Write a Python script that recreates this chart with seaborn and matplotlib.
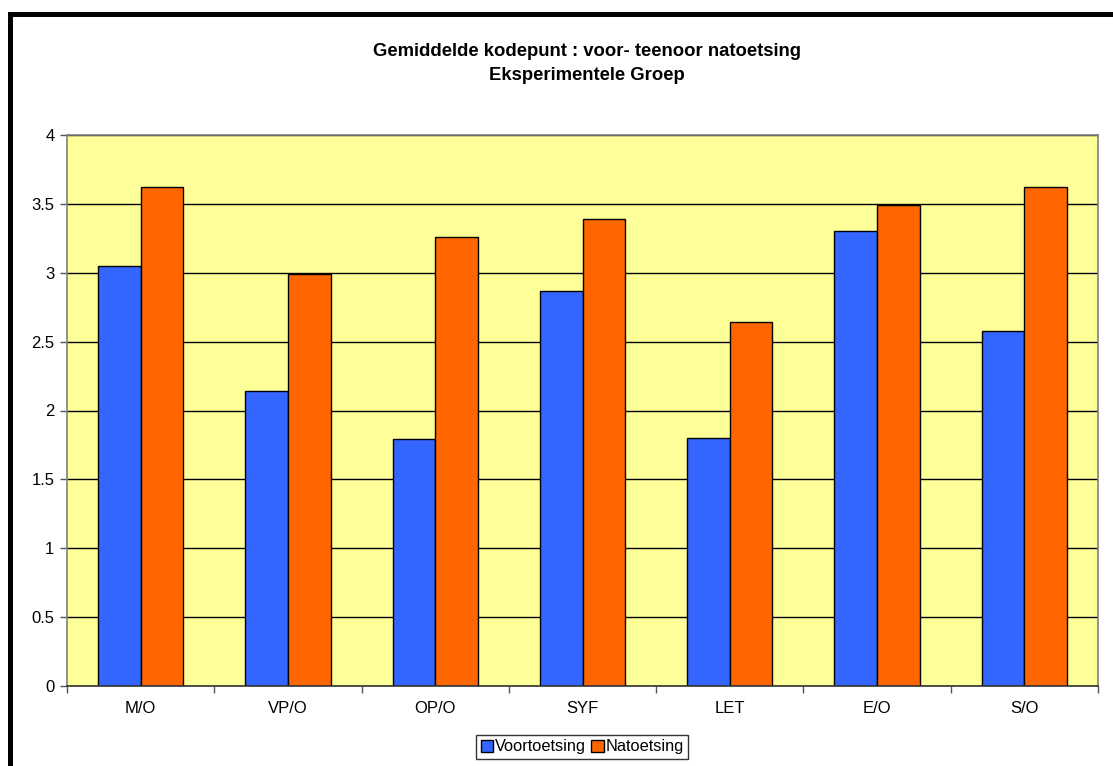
import matplotlib
matplotlib.use("Agg")
import matplotlib.pyplot as plt
from matplotlib.patches import Patch, Rectangle
from matplotlib.ticker import MultipleLocator, FixedLocator
import seaborn as sns
import pandas as pd

categories = ["M/O", "VP/O", "OP/O", "SYF", "LET", "E/O", "S/O"]
voortoetsing = [3.05, 2.14, 1.79, 2.87, 1.80, 3.30, 2.58]
natoetsing = [3.62, 2.99, 3.26, 3.39, 2.64, 3.49, 3.62]
series_names = ["Voortoetsing", "Natoetsing"]
colors = ["#3366FF", "#FF6600"]

df = pd.DataFrame({
    "kategorie": categories * 2,
    "reeks": [series_names[0]] * len(categories) + [series_names[1]] * len(categories),
    "waarde": voortoetsing + natoetsing,
})

sns.set_theme(style="white")
plt.rcParams["font.family"] = ["Liberation Sans", "DejaVu Sans"]
plt.rcParams["text.color"] = "black"
plt.rcParams["xtick.color"] = "black"
plt.rcParams["ytick.color"] = "black"

fig = plt.figure(figsize=(11.13, 7.66), dpi=100)
ax = fig.add_axes([67 / 1113, 1 - 686 / 766, (1098 - 67) / 1113, (686 - 135) / 766])
ax.set_facecolor("#FFFF99")

sns.barplot(data=df, x="kategorie", y="waarde", hue="reeks", palette=colors,
            edgecolor="black", linewidth=1.0, width=0.58, gap=0, ax=ax,
            errorbar=None, legend=False, saturation=1)

ax.set_axisbelow(True)
ax.set_xlim(-0.5, len(categories) - 0.5)
ax.set_ylim(0, 4)
ax.yaxis.set_major_locator(MultipleLocator(0.5))
ax.set_yticklabels([("%g" % v) for v in ax.get_yticks()])
ax.grid(axis="y", color="black", linewidth=1.0)
ax.grid(axis="x", visible=False)
ax.set_xlabel("")
ax.set_ylabel("")

ax.xaxis.set_minor_locator(FixedLocator([i - 0.5 for i in range(len(categories) + 1)]))
ax.tick_params(axis="x", which="major", length=0, pad=11, labelsize=12, labelcolor="black")
ax.tick_params(axis="x", which="minor", length=5, width=1, color="#555555", direction="out", bottom=True)
ax.tick_params(axis="y", which="major", length=5, width=1, color="#555555", direction="out",
               left=True, labelsize=12, pad=4, labelcolor="black")

for side in ["left", "top", "right"]:
    ax.spines[side].set_color("#808080")
    ax.spines[side].set_linewidth(1.2)
ax.spines["bottom"].set_color("#333333")
ax.spines["bottom"].set_linewidth(1.2)

fig.text(587 / 1113, 1 - 52 / 766, "Gemiddelde kodepunt : voor- teenoor natoetsing",
         ha="center", va="center", fontsize=13.3, fontweight="bold", color="black")
fig.text(587 / 1113, 1 - 75 / 766, "Eksperimentele Groep",
         ha="center", va="center", fontsize=13.3, fontweight="bold", color="black")

handles = [Patch(facecolor=c, edgecolor="black", linewidth=1.0) for c in colors]
leg = fig.legend(handles, series_names, loc="center", bbox_to_anchor=(582 / 1113, 1 - 747 / 766),
                 ncol=2, fontsize=11.8, frameon=True, fancybox=False, shadow=False,
                 handlelength=0.75, handleheight=0.75, handletextpad=0.1, columnspacing=0.35,
                 borderpad=0.25, borderaxespad=0, labelcolor="black")
leg.get_frame().set_edgecolor("black")
leg.get_frame().set_linewidth(1.0)

# heavy black frame along the top and left edges (right and bottom run off the canvas)
fig.add_artist(Rectangle((9.5 / 1113, -0.1), 1.2, 1.1 - 13.5 / 766, transform=fig.transFigure,
                         fill=False, edgecolor="black", linewidth=3.6, joinstyle="miter"))

fig.savefig("out.png", dpi=100, facecolor="white")
